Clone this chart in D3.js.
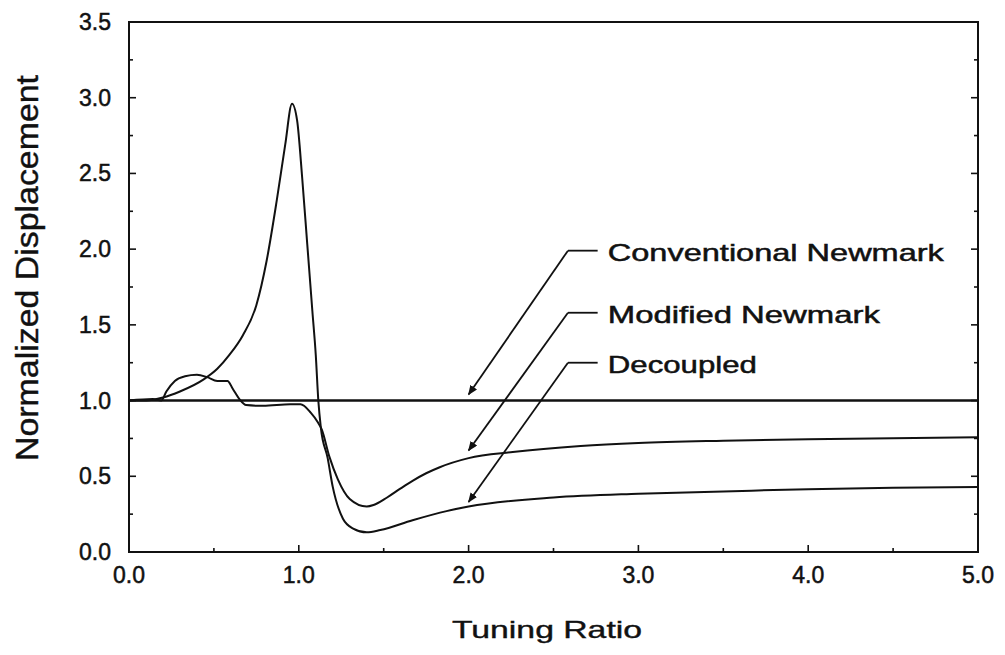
<!DOCTYPE html>
<html lang="en">
<head>
<meta charset="UTF-8">
<title>Normalized Displacement vs Tuning Ratio</title>
<script src="https://d3js.org/d3.v7.min.js"></script>
<style>
  body { margin: 0; background: #fff; }
  svg { font-family: "Liberation Sans", Arial, Helvetica, sans-serif; }
  .curve { fill: none; stroke: #111; stroke-width: 2; }
  .frame { fill: none; stroke: #111; stroke-width: 2; }
  .tick { stroke: #111; stroke-width: 1.6; }
  .ticklabel { font-size: 23px; fill: #111; stroke: #111; stroke-width: 0.5; }
  .title { font-size: 24px; fill: #111; stroke: #111; stroke-width: 0.4; }
  .note { font-size: 24px; fill: #111; stroke: #111; stroke-width: 0.5; }
  .leader { fill: none; stroke: #111; stroke-width: 1.8; }
</style>
</head>
<body>
<div id="chart"></div>
<script>
// values
const conventionalX = [0, 5];
const conventionalY = [1.0, 1.0];

const modifiedX = [0, 0.14, 0.19, 0.22, 0.27, 0.33, 0.40, 0.46, 0.52, 0.58, 0.61, 0.65, 0.69, 0.79, 0.95, 1.01, 1.07, 1.11, 1.135, 1.18, 1.23, 1.30, 1.40, 1.44, 1.52, 1.60, 1.67, 1.75, 1.83, 2.0, 2.26, 2.66, 3.0, 3.5, 4.0, 4.5, 5.0];
const modifiedY = [1.0, 1.01, 1.0, 1.06, 1.13, 1.16, 1.17, 1.155, 1.13, 1.13, 1.08, 1.01, 0.97, 0.965, 0.975, 0.975, 0.92, 0.86, 0.81, 0.63, 0.48, 0.35, 0.30, 0.31, 0.36, 0.42, 0.47, 0.52, 0.56, 0.62, 0.66, 0.70, 0.72, 0.735, 0.745, 0.752, 0.757];

const decoupledX = [0, 0.1, 0.2, 0.3, 0.44, 0.52, 0.59, 0.67, 0.75, 0.81, 0.87, 0.92, 0.96, 0.99, 1.02, 1.05, 1.08, 1.10, 1.115, 1.13, 1.17, 1.20, 1.26, 1.32, 1.40, 1.48, 1.67, 1.87, 2.0, 2.5, 3.0, 3.5, 4.0, 4.5, 5.0];
const decoupledY = [1.0, 1.0, 1.02, 1.06, 1.14, 1.21, 1.30, 1.43, 1.63, 1.92, 2.32, 2.69, 2.96, 2.85, 2.47, 2.03, 1.59, 1.30, 1.0, 0.82, 0.62, 0.43, 0.22, 0.155, 0.13, 0.145, 0.21, 0.27, 0.30, 0.36, 0.385, 0.40, 0.415, 0.425, 0.43];

const xTicks = [0, 1, 2, 3, 4, 5];
const xMinor = [0.5, 1.5, 2.5, 3.5, 4.5];
const yTicks = [0, 0.5, 1.0, 1.5, 2.0, 2.5, 3.0, 3.5];
const yMinor = [0.25, 0.75, 1.25, 1.75, 2.25, 2.75, 3.25];

// labels with their arrow tip and elbow, in data units
const noteLabels = ["Conventional  Newmark", "Modified  Newmark", "Decoupled"];
const noteTipX = [2.0, 2.0, 2.0];
const noteTipY = [1.04, 0.67, 0.33];
const noteElbowY = [1.99, 1.58, 1.25];

const width = 1005, height = 655;
const margin = { top: 22, right: 27, bottom: 103, left: 129 };

const svg = d3.select("#chart").append("svg")
    .attr("width", width)
    .attr("height", height);

const x = d3.scaleLinear().domain([0, 5]).range([margin.left, width - margin.right]);
const y = d3.scaleLinear().domain([0, 3.5]).range([height - margin.bottom, margin.top]);

svg.append("defs").append("marker")
    .attr("id", "arrow")
    .attr("viewBox", "0 0 10 8")
    .attr("refX", 9).attr("refY", 4)
    .attr("markerWidth", 10).attr("markerHeight", 8)
    .attr("markerUnits", "userSpaceOnUse")
    .attr("orient", "auto")
    .append("path")
    .attr("d", "M0,0 L10,4 L0,8 Z")
    .attr("fill", "#111");

// ticks (inward) on left, right and bottom
const x0 = x(0), x1 = x(5), y0 = y(0), y1 = y(3.5);
const g = svg.append("g");
yTicks.forEach(v => {
  g.append("line").attr("class", "tick").attr("x1", x0).attr("x2", x0 + 7).attr("y1", y(v)).attr("y2", y(v));
  g.append("line").attr("class", "tick").attr("x1", x1).attr("x2", x1 - 7).attr("y1", y(v)).attr("y2", y(v));
});
yMinor.forEach(v => {
  g.append("line").attr("class", "tick").attr("x1", x0).attr("x2", x0 + 4).attr("y1", y(v)).attr("y2", y(v));
  g.append("line").attr("class", "tick").attr("x1", x1).attr("x2", x1 - 4).attr("y1", y(v)).attr("y2", y(v));
});
xTicks.forEach(v => {
  g.append("line").attr("class", "tick").attr("x1", x(v)).attr("x2", x(v)).attr("y1", y0).attr("y2", y0 - 7);
});
xMinor.forEach(v => {
  g.append("line").attr("class", "tick").attr("x1", x(v)).attr("x2", x(v)).attr("y1", y0).attr("y2", y0 - 4);
});

svg.append("rect").attr("class", "frame")
    .attr("x", x0).attr("y", y1)
    .attr("width", x1 - x0).attr("height", y0 - y1);

// tick labels
svg.selectAll(".ylab").data(yTicks).enter().append("text")
    .attr("class", "ticklabel")
    .attr("x", x0 - 18)
    .attr("y", d => y(d) + 8)
    .attr("text-anchor", "end")
    .text(d => d.toFixed(1));

svg.selectAll(".xlab").data(xTicks).enter().append("text")
    .attr("class", "ticklabel")
    .attr("x", d => x(d))
    .attr("y", y0 + 31)
    .attr("text-anchor", "middle")
    .text(d => d.toFixed(1));

// axis titles
svg.append("text").attr("class", "title")
    .attr("x", 547).attr("y", 638)
    .attr("text-anchor", "middle")
    .attr("textLength", 190).attr("lengthAdjust", "spacingAndGlyphs")
    .text("Tuning Ratio");

svg.append("text").attr("class", "title")
    .attr("transform", "translate(38,268) rotate(-90)")
    .attr("text-anchor", "middle")
    .style("font-size", "31px")
    .attr("textLength", 386).attr("lengthAdjust", "spacingAndGlyphs")
    .text("Normalized Displacement");

// curves
const line = d3.line()
    .x(d => x(d[0]))
    .y(d => y(d[1]))
    .curve(d3.curveMonotoneX);

const series = [
  d3.zip(conventionalX, conventionalY),
  d3.zip(modifiedX, modifiedY),
  d3.zip(decoupledX, decoupledY)
];
svg.selectAll(".curve").data(series).enter().append("path")
    .attr("class", "curve")
    .attr("d", line);
svg.select(".curve").style("stroke-width", 2.4);

// annotations
const elbowX = 2.585, barEndX = 2.76, labelX = 2.82;
const labelWidths = [336, 272, 149];
noteLabels.forEach((t, i) => {
  svg.append("path").attr("class", "leader")
      .attr("d", `M${x(barEndX)},${y(noteElbowY[i])} L${x(elbowX)},${y(noteElbowY[i])}`);
  svg.append("line").attr("class", "leader")
      .attr("x1", x(elbowX)).attr("y1", y(noteElbowY[i]))
      .attr("x2", x(noteTipX[i])).attr("y2", y(noteTipY[i]))
      .attr("marker-end", "url(#arrow)");
  svg.append("text").attr("class", "note")
      .attr("x", x(labelX))
      .attr("y", y(noteElbowY[i]) + 10)
      .attr("textLength", labelWidths[i]).attr("lengthAdjust", "spacingAndGlyphs")
      .text(t);
});
</script>
</body>
</html>
